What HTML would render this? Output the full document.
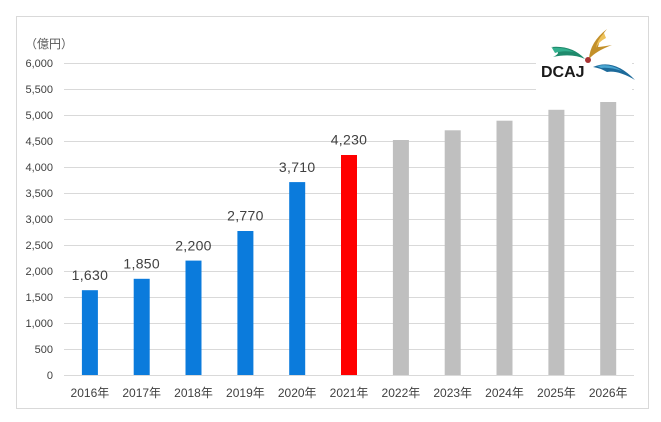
<!DOCTYPE html>
<html><head><meta charset="utf-8"><style>
html,body{margin:0;padding:0;background:#fff;}
svg{display:block;}
text{font-family:"Liberation Sans","Noto Sans CJK JP",sans-serif;}
</style></head><body>
<svg width="661" height="422" viewBox="0 0 661 422" xmlns="http://www.w3.org/2000/svg">
<rect x="0" y="0" width="661" height="422" fill="#fff"/>
<rect x="16.5" y="16.5" width="632" height="392" fill="#fff" stroke="#d9d9d9" stroke-width="1"/>
<g stroke="#d9d9d9" stroke-width="1">
<line x1="64" x2="634" y1="63.5" y2="63.5"/>
<line x1="64" x2="634" y1="89.5" y2="89.5"/>
<line x1="64" x2="634" y1="115.5" y2="115.5"/>
<line x1="64" x2="634" y1="141.5" y2="141.5"/>
<line x1="64" x2="634" y1="167.5" y2="167.5"/>
<line x1="64" x2="634" y1="193.5" y2="193.5"/>
<line x1="64" x2="634" y1="219.5" y2="219.5"/>
<line x1="64" x2="634" y1="245.5" y2="245.5"/>
<line x1="64" x2="634" y1="271.5" y2="271.5"/>
<line x1="64" x2="634" y1="297.5" y2="297.5"/>
<line x1="64" x2="634" y1="323.5" y2="323.5"/>
<line x1="64" x2="634" y1="349.5" y2="349.5"/>
<line x1="64" x2="634" y1="375.5" y2="375.5"/>
</g>
<g fill="#404040" font-size="11" text-anchor="end">
<text x="53" y="67">6,000</text>
<text x="53" y="93">5,500</text>
<text x="53" y="119">5,000</text>
<text x="53" y="145">4,500</text>
<text x="53" y="171">4,000</text>
<text x="53" y="197">3,500</text>
<text x="53" y="223">3,000</text>
<text x="53" y="249">2,500</text>
<text x="53" y="275">2,000</text>
<text x="53" y="301">1,500</text>
<text x="53" y="327">1,000</text>
<text x="53" y="353">500</text>
<text x="53" y="379">0</text>
</g>
<text x="25" y="48" font-size="12" fill="#595959">（億円）</text>
<g>
<rect x="81.9" y="290.2" width="16" height="84.8" fill="#0b7bdc"/>
<rect x="133.7" y="278.8" width="16" height="96.2" fill="#0b7bdc"/>
<rect x="185.5" y="260.6" width="16" height="114.4" fill="#0b7bdc"/>
<rect x="237.4" y="231" width="16" height="144" fill="#0b7bdc"/>
<rect x="289.2" y="182.1" width="16" height="192.9" fill="#0b7bdc"/>
<rect x="341" y="155" width="16" height="220" fill="#ff0000"/>
<rect x="392.9" y="140" width="16" height="235" fill="#bfbfbf"/>
<rect x="444.7" y="130.3" width="16" height="244.7" fill="#bfbfbf"/>
<rect x="496.5" y="120.7" width="16" height="254.3" fill="#bfbfbf"/>
<rect x="548.4" y="109.8" width="16" height="265.2" fill="#bfbfbf"/>
<rect x="600.2" y="102" width="16" height="273" fill="#bfbfbf"/>
</g>
<g fill="#404040" font-size="14" text-anchor="middle" letter-spacing="0.3">
<text x="89.9" y="280">1,630</text>
<text x="141.7" y="268.5">1,850</text>
<text x="193.5" y="250.3">2,200</text>
<text x="245.4" y="220.7">2,770</text>
<text x="297.2" y="171.8">3,710</text>
<text x="349" y="144.7">4,230</text>
</g>
<g fill="#404040" font-size="12" text-anchor="middle">
<text x="89.9" y="397">2016年</text>
<text x="141.7" y="397">2017年</text>
<text x="193.5" y="397">2018年</text>
<text x="245.4" y="397">2019年</text>
<text x="297.2" y="397">2020年</text>
<text x="349" y="397">2021年</text>
<text x="400.9" y="397">2022年</text>
<text x="452.7" y="397">2023年</text>
<text x="504.5" y="397">2024年</text>
<text x="556.4" y="397">2025年</text>
<text x="608.2" y="397">2026年</text>
</g>
<!-- logo -->
<rect x="536" y="28" width="96" height="72" fill="#fff"/>
<path d="M551 47 Q572 45 585 59 Q572 53 553 57 Q564 52 551 47 Z" fill="#1f8a6c"/>
<path d="M552 48 Q565 47 574 52 Q563 50 555 53 Z" fill="#33b08e"/>
<path d="M607 29 Q590 42 589 59 Q596 51 612 45 Q600 47 598 47 Q600 37 607 29 Z" fill="#c3902a"/>
<path d="M604 33 Q597 40 596 48 Q598 42 606 38 Z" fill="#eec25a"/>
<path d="M593 67 Q614 58 635 80 Q618 70 607 72 Q600 68 593 67 Z" fill="#1d6a9a"/>
<path d="M597 66 Q610 63 622 71 Q610 67 601 68 Z" fill="#4aa6d2"/>
<circle cx="588" cy="60" r="3" fill="#a83232"/>
<text x="541" y="77" font-size="16" font-weight="bold" fill="#1a1a1a">DCAJ</text>
</svg>
</body></html>
